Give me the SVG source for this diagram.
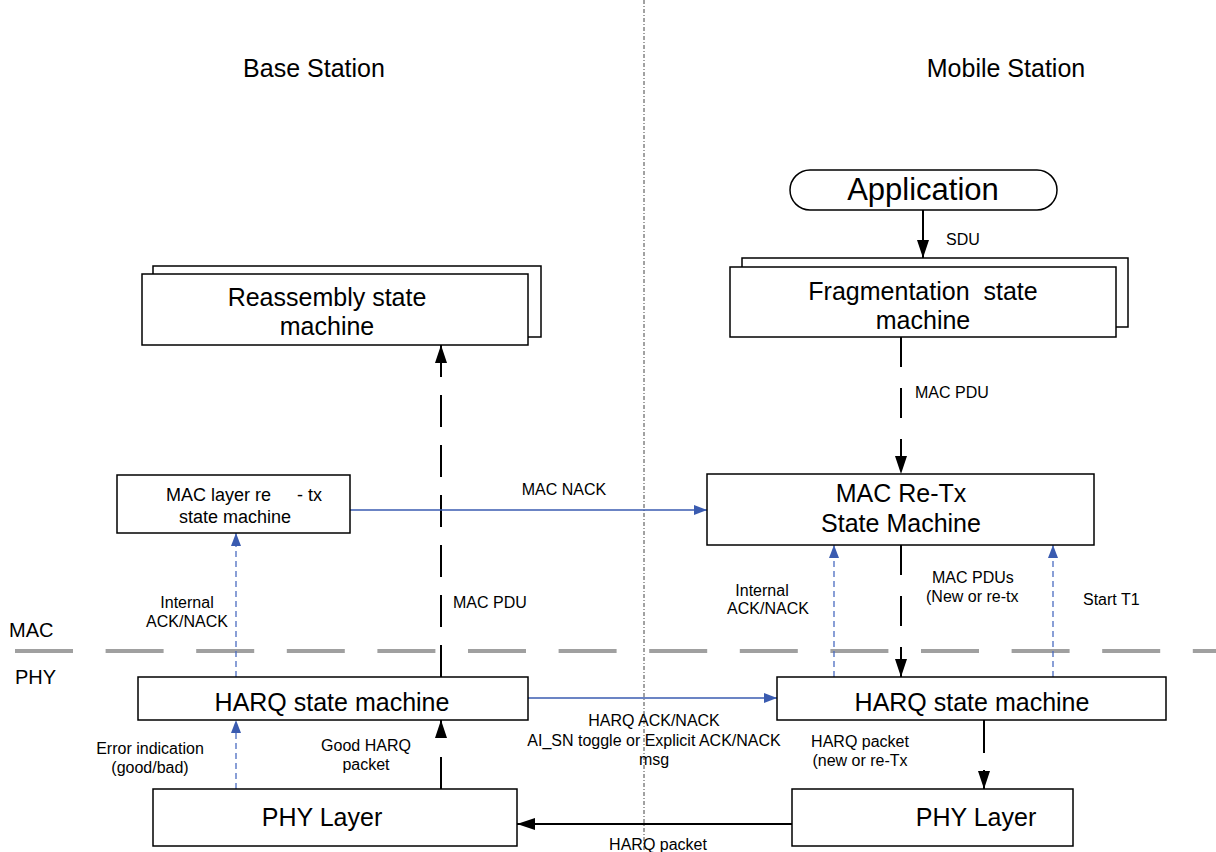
<svg xmlns="http://www.w3.org/2000/svg" width="1216" height="852" viewBox="0 0 1216 852">
<defs>
<style>
text{font-family:"Liberation Sans",Arial,sans-serif;fill:#000}
.big{font-size:25px;text-anchor:middle}
.sm{font-size:16px}
.smc{font-size:16px;text-anchor:middle}
.box{fill:#fff;stroke:#000;stroke-width:1.5}
.blk{stroke:#000;stroke-width:2;fill:none}
.dsh{stroke-dasharray:32 18}
.blu{stroke:#3a5bb0;stroke-width:1.3;fill:none}
.bdash{stroke:#4a6cc0;stroke-width:1.3;fill:none;stroke-dasharray:6 4}
</style>
<marker id="ab" markerUnits="userSpaceOnUse" markerWidth="18" markerHeight="12" refX="18" refY="6" orient="auto"><path d="M0,0 L18,6 L0,12 z" fill="#000"/></marker>
<marker id="au" markerUnits="userSpaceOnUse" markerWidth="13" markerHeight="10" refX="13" refY="5" orient="auto"><path d="M0,0 L13,5 L0,10 z" fill="#3a5bb0"/></marker>
</defs>
<rect width="1216" height="852" fill="#fff"/>
<g id="divider">
<line x1="644" y1="0" x2="644" y2="852" stroke="#444" stroke-width="1" stroke-dasharray="4 2 1 2"/>
<line x1="15" y1="651" x2="1216" y2="651" stroke="#a0a0a0" stroke-width="4" stroke-dasharray="58 32.6"/>
<text x="9" y="637" style="font-size:20px">MAC</text>
<text x="15" y="684" style="font-size:20px">PHY</text>
</g>
<g id="titles">
<text x="314" y="77" style="font-size:25px;text-anchor:middle">Base Station</text>
<text x="1006" y="77" style="font-size:25px;text-anchor:middle">Mobile Station</text>
</g>
<g id="connectors">
<line class="blk" x1="923" y1="210" x2="923" y2="258" marker-end="url(#ab)"/>
<line class="blk" x1="901" y1="337" x2="901" y2="474" stroke-dasharray="30 21" marker-end="url(#ab)"/>
<line class="blk" x1="901" y1="545" x2="901" y2="677" stroke-dasharray="30 21" marker-end="url(#ab)"/>
<line class="blk dsh" x1="441" y1="677" x2="441" y2="345" marker-end="url(#ab)"/>
<line class="blk" x1="441" y1="789" x2="441" y2="720" stroke-dasharray="32 19 100" marker-end="url(#ab)"/>
<line class="blu" x1="350" y1="510" x2="707" y2="510" marker-end="url(#au)"/>
<line class="blu" x1="528" y1="698" x2="777" y2="698" marker-end="url(#au)"/>
<line class="bdash" x1="236" y1="789" x2="236" y2="720" marker-end="url(#au)"/>
<line class="bdash" x1="236" y1="677" x2="236" y2="533" marker-end="url(#au)"/>
<line class="bdash" x1="834" y1="677" x2="834" y2="545" marker-end="url(#au)"/>
<line class="bdash" x1="1053" y1="677" x2="1053" y2="545" marker-end="url(#au)"/>
<line class="blk" x1="984" y1="720" x2="984" y2="789" stroke-dasharray="33 17 100" marker-end="url(#ab)"/>
<line class="blk" x1="792" y1="824" x2="517" y2="824" marker-end="url(#ab)"/>
<text class="sm" x="946" y="245">SDU</text>
<text class="sm" x="915" y="398">MAC PDU</text>
<text class="smc" x="564" y="495">MAC NACK</text>
<text class="sm" x="453" y="608">MAC PDU</text>
<text class="smc" x="187" y="608">Internal</text>
<text class="smc" x="187" y="627">ACK/NACK</text>
<text class="smc" x="762" y="596">Internal</text>
<text class="smc" x="768" y="614">ACK/NACK</text>
<text class="sm" x="932" y="583">MAC PDUs</text>
<text class="sm" x="926" y="602">(New or re-tx</text>
<text class="sm" x="1083" y="605">Start T1</text>
<text class="smc" x="150" y="754">Error indication</text>
<text class="smc" x="150" y="773">(good/bad)</text>
<text class="smc" x="366" y="751">Good HARQ</text>
<text class="smc" x="366" y="770">packet</text>
<text class="smc" x="654" y="726">HARQ ACK/NACK</text>
<text class="smc" x="654" y="746">AI_SN toggle or Explicit ACK/NACK</text>
<text class="smc" x="654" y="765">msg</text>
<text class="smc" x="860" y="747">HARQ packet</text>
<text class="smc" x="860" y="766">(new or re-Tx</text>
<text class="smc" x="658" y="850">HARQ packet</text>
</g>
<g id="application">
<rect class="box" x="790" y="170" width="267" height="40" rx="20" ry="20"/>
<text x="923" y="200" style="font-size:31px;text-anchor:middle">Application</text>
</g>
<g id="fragmentation">
<rect class="box" x="742" y="258" width="386" height="69"/>
<rect class="box" x="730" y="267" width="386" height="70"/>
<text class="big" x="923" y="300" style="white-space:pre">Fragmentation  state</text>
<text class="big" x="923" y="329">machine</text>
</g>
<g id="reassembly">
<rect class="box" x="153" y="266" width="388" height="71"/>
<rect class="box" x="142" y="274" width="386" height="71"/>
<text class="big" x="327" y="306">Reassembly state</text>
<text class="big" x="327" y="335">machine</text>
</g>
<g id="mac-layer-retx">
<rect class="box" x="117" y="475" width="233" height="58"/>
<text style="font-size:18px"><tspan x="166" y="501">MAC layer re</tspan><tspan x="297" y="501">- tx</tspan></text>
<text x="235" y="523" style="font-size:18px;text-anchor:middle">state machine</text>
</g>
<g id="mac-retx">
<rect class="box" x="707" y="474" width="387" height="71"/>
<text class="big" x="901" y="502">MAC Re-Tx</text>
<text class="big" x="901" y="532">State Machine</text>
</g>
<g id="harq-bs">
<rect class="box" x="138" y="677" width="390" height="43"/>
<text class="big" x="332" y="711">HARQ state machine</text>
</g>
<g id="harq-ms">
<rect class="box" x="777" y="677" width="389" height="43"/>
<text class="big" x="972" y="711">HARQ state machine</text>
</g>
<g id="phy-bs">
<rect class="box" x="153" y="789" width="364" height="57"/>
<text class="big" x="322" y="826">PHY Layer</text>
</g>
<g id="phy-ms">
<rect class="box" x="792" y="789" width="281" height="57"/>
<text class="big" x="976" y="826">PHY Layer</text>
</g>
</svg>
